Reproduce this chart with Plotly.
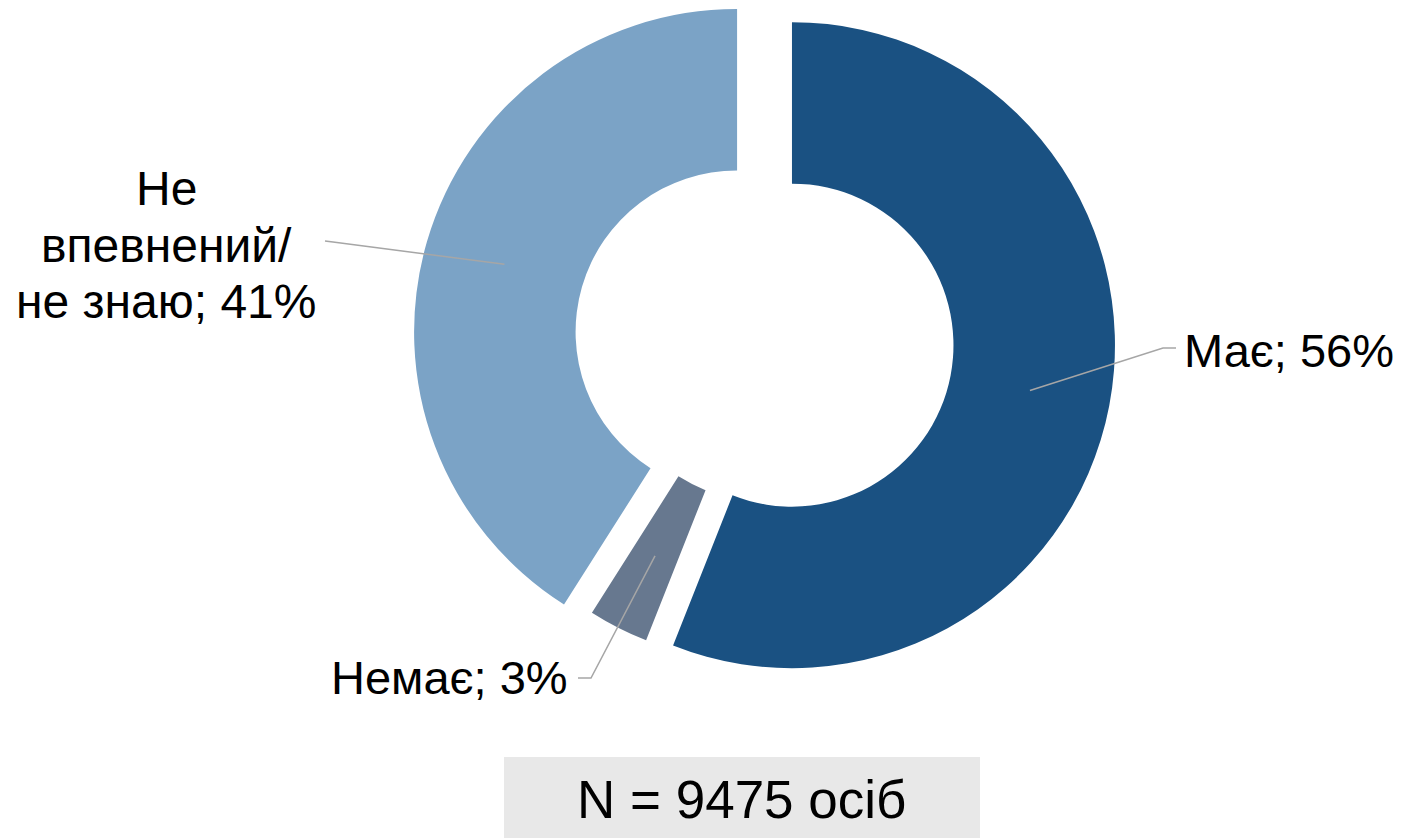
import math
import plotly.graph_objects as go

# ---- data ----
categories = ["Має", "Немає", "Не впевнений/ не знаю"]
values = [56, 3, 41]
label_texts = ["Має; 56%", "Немає; 3%", "Не<br>впевнений/<br>не знаю; 41%"]
sample_note = "N = 9475 осіб"

# ---- style / layout ----
PAGE_W, PAGE_H = 1404, 838
OFF = 8  # default body margin of the html page
W, H = PAGE_W - OFF, PAGE_H - OFF
colors = ["#1a5182", "#67788f", "#7ba3c6"]
pulls = [0.085, 0.0, 0.09]
R = 323.0             # outer radius in px
HOLE = 0.5
CX, CY = 765.0, 340.0  # pie centre in page px (from top-left)
FONT = "Liberation Sans, Arial, sans-serif"
LINE_COLOR = "#a6a6a6"


def px(x):
    return (x - OFF) / W


def py(y):
    return 1 - (y - OFF) / H


total = sum(values)
fig = go.Figure()

mid_angles = []
start = 0.0
for v in values:
    span = v / total * 360.0
    mid_angles.append(start + span / 2)
    start += span

centres = []
for i, (v, c) in enumerate(zip(values, colors)):
    a = math.radians(mid_angles[i])
    d = pulls[i] * R
    cx = CX + d * math.sin(a)
    cy = CY - d * math.cos(a)
    centres.append((cx, cy))
    slice_colors = ["rgba(0,0,0,0)"] * len(values)
    slice_colors[i] = c
    fig.add_trace(go.Pie(
        labels=categories,
        values=values,
        sort=False,
        direction="clockwise",
        rotation=0,
        hole=HOLE,
        textinfo="none",
        hoverinfo="label+percent",
        marker=dict(colors=slice_colors, line=dict(width=0)),
        domain=dict(x=[px(cx - R), px(cx + R)], y=[py(cy + R), py(cy - R)]),
        showlegend=False,
    ))

# anchor points at mid ring of each slice
anchors = []
rmid = R * (1 + HOLE) / 2
for i in range(len(values)):
    a = math.radians(mid_angles[i])
    cx, cy = centres[i]
    anchors.append((cx + rmid * math.sin(a), cy - rmid * math.cos(a)))

# leader line end points (bend, end)
leader_ends = [
    [(1163, 348), (1176, 348)],
    [(591, 678), (578, 678)],
    [(333, 242), (325, 241)],
]

shapes = []
for anc, pts in zip(anchors, leader_ends):
    path = "M {} {}".format(px(anc[0]), py(anc[1]))
    for (x, y) in pts:
        path += " L {} {}".format(px(x), py(y))
    shapes.append(dict(type="path", xref="paper", yref="paper", path=path,
                       line=dict(color=LINE_COLOR, width=1.5)))

# N box
shapes.append(dict(type="rect", xref="paper", yref="paper",
                   x0=px(504), x1=px(980), y0=py(838), y1=py(757),
                   fillcolor="#e8e8e8", line=dict(width=0), layer="below"))

annotations = [
    dict(text=label_texts[0], x=px(1182), y=py(350), xanchor="left", yanchor="middle", size=47),
    dict(text=label_texts[1], x=px(450), y=py(677), xanchor="center", yanchor="middle", size=47),
]
for line, yc in zip(label_texts[2].split("<br>"), [188, 245, 301]):
    annotations.append(dict(text=line, x=px(166), y=py(yc), xanchor="center",
                            yanchor="middle", size=48))
annotations.append(dict(text=sample_note, x=px(741), y=py(799), xanchor="center",
                        yanchor="middle", size=53))

for a in annotations:
    size = a.pop("size")
    a.update(xref="paper", yref="paper", showarrow=False,
             font=dict(family=FONT, size=size, color="#000000"))

fig.update_layout(
    width=W, height=H,
    margin=dict(l=0, r=0, t=0, b=0),
    paper_bgcolor="white",
    plot_bgcolor="white",
    shapes=shapes,
    annotations=annotations,
)

fig.write_html("out.html")
